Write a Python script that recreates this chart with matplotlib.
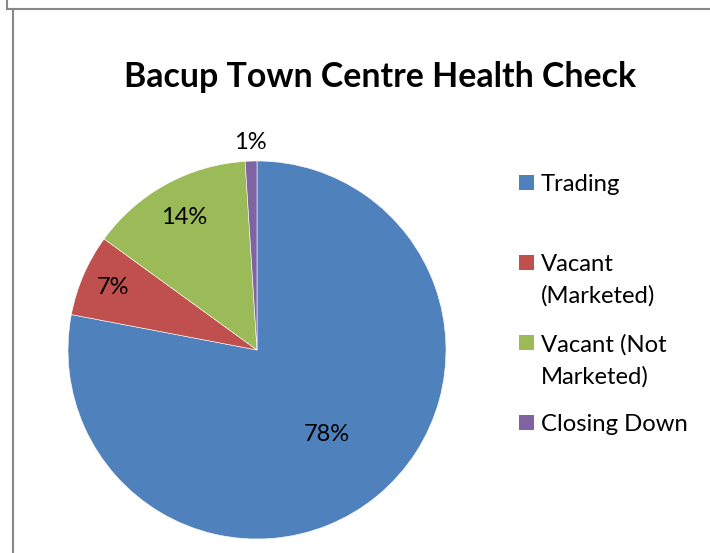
import matplotlib.pyplot as plt
from matplotlib.patches import Rectangle
from matplotlib.lines import Line2D
import numpy as np

# data
categories = ["Trading", "Vacant (Marketed)", "Vacant (Not Marketed)", "Closing Down"]
legend_text = ["Trading", "Vacant\n(Marketed)", "Vacant (Not\nMarketed)", "Closing Down"]
shares = [78, 7, 14, 1]
title = "Bacup Town Centre Health Check"

colors = ["#4F81BD", "#C0504D", "#9BBB59", "#8064A2"]
label_dist = [0.58, 0.83, 0.80, 1.10]

W, H = 710, 553
fig = plt.figure(figsize=(W / 100, H / 100), dpi=100)
plt.rcParams['font.family'] = ['Lato', 'DejaVu Sans']

# pie axes, centre (257, 350) px, radius 189 px
cx, cy, r = 257, 350, 189
ax = fig.add_axes([(cx - r) / W, (H - cy - r) / H, 2 * r / W, 2 * r / H])
wedges, _ = ax.pie(shares, colors=colors, startangle=90, counterclock=False,
                   radius=1, wedgeprops=dict(edgecolor="white", linewidth=0.4))
ax.set_xlim(-1, 1)
ax.set_ylim(-1, 1)
ax.set_aspect("equal")
ax.axis("off")

for w, v, d in zip(wedges, shares, label_dist):
    ang = np.deg2rad((w.theta1 + w.theta2) / 2)
    ax.text(d * np.cos(ang), d * np.sin(ang), f"{v}%", ha="center", va="center",
            fontsize=17, color="black")

fig.text(380 / W, 1 - 77 / H, title, ha="center", va="center",
         fontsize=24.4, fontweight="bold")

# legend, drawn by hand so wrapped entries sit like Excel's
leg_y = [183, 263, 343, 423]
for lab, c, y in zip(legend_text, colors, leg_y):
    fig.add_artist(Rectangle((519 / W, 1 - (y + 7) / H), 15 / W, 15 / H,
                             transform=fig.transFigure, facecolor=c, edgecolor="none"))
    fig.text(541 / W, 1 - (y - 9) / H, lab, ha="left", va="top",
             fontsize=17.2, linespacing=1.6)

# frame lines
gray = "#888888"
fig.add_artist(Line2D([6.5 / W, 1], [1 - 8.5 / H, 1 - 8.5 / H], color=gray, lw=1.5,
                      transform=fig.transFigure))
fig.add_artist(Line2D([6.5 / W, 6.5 / W], [1, 1 - 8.5 / H], color=gray, lw=1.5,
                      transform=fig.transFigure))
fig.add_artist(Line2D([12.5 / W, 12.5 / W], [1 - 8.5 / H, 0], color=gray, lw=1.5,
                      transform=fig.transFigure))

fig.savefig("out.png", dpi=100)
